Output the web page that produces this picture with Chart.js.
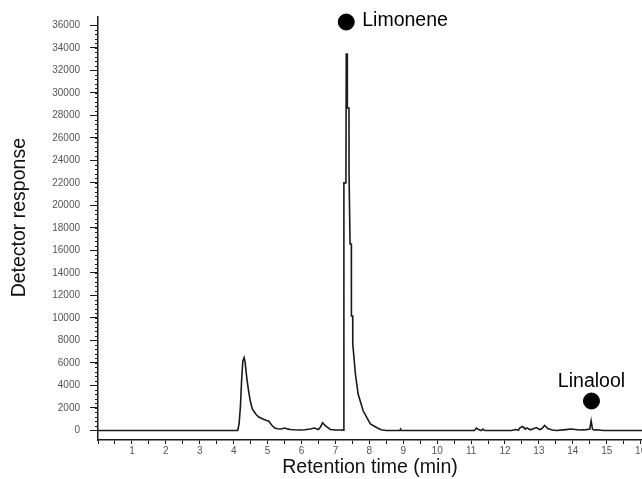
<!DOCTYPE html>
<html>
<head>
<meta charset="utf-8">
<title>Chromatogram</title>
<script src="https://cdn.jsdelivr.net/npm/chart.js@4.4.1/dist/chart.umd.min.js"></script>
<style>
  html, body { margin: 0; padding: 0; background: #fff; }
  #wrap { width: 642px; height: 479px; }
</style>
</head>
<body>
<div id="wrap"><canvas id="chart" width="642" height="479"></canvas></div>
<script>
/* ---- data ---- */
const TIME = [
  0, 4.12, 4.16, 4.2, 4.23, 4.27, 4.31, 4.34, 4.39, 4.44, 4.49, 4.55, 4.65, 4.74,
  4.86, 4.97, 5.03, 5.12, 5.21, 5.3, 5.39, 5.51, 5.6, 5.68, 5.8, 5.97, 6.1, 6.26,
  6.38, 6.5, 6.56, 6.62, 6.71, 6.85, 7.0, 7.15, 7.24,
  7.25, 7.31, 7.32, 7.35, 7.352, 7.4, 7.402, 7.43, 7.432, 7.47, 7.472, 7.51, 7.512,
  7.59, 7.67, 7.82, 8.03, 8.24, 8.35, 8.5,
  8.9, 8.92, 8.94, 11.1, 11.16, 11.22, 11.3, 11.35, 11.4, 12.2, 12.3, 12.4, 12.43,
  12.52, 12.6, 12.64, 12.75, 12.93, 13.02, 13.08, 13.17, 13.26, 13.4, 13.52, 13.8,
  13.95, 14.2, 14.4, 14.5, 14.54, 14.58, 14.62, 14.7, 14.9, 15.2, 16.04
];
const RESPONSE = [
  0, 0, 580, 2180, 4200, 6170, 6470, 6000, 4580, 3510, 2620, 1910, 1470, 1200,
  1020, 890, 840, 490, 220, 150, 130, 220, 120, 90, 60, 40, 60, 130,
  220, 90, 300, 690, 400, 90, 50, 40, 30,
  22000, 22000, 33450, 33450, 28650, 28650, 22790, 22790, 16570, 16570, 10170, 10170, 7680,
  5020, 3240, 1730, 580, 220, 60, 0,
  0, 120, 0, 0, 220, 80, 0, 130, 0, 0, 90, 40, 220,
  350, 120, 230, 60, 260, 80, 150, 450, 180, 40, 0, 80,
  130, 40, 80, 120, 850, 120, 40, 60, 0, 0, 0
];

const PEAK_NAMES = ["Limonene", "Linalool"];
const PEAK_TIME = [7.32, 14.55];
const PEAK_MARK = [36290, 2620];

const X_TICKS = [0, 0.5, 1, 1.5, 2, 2.5, 3, 3.5, 4, 4.5, 5, 5.5, 6, 6.5, 7, 7.5, 8,
  8.5, 9, 9.5, 10, 10.5, 11, 11.5, 12, 12.5, 13, 13.5, 14, 14.5, 15, 15.5, 16];
const Y_TICKS = [0, 2000, 4000, 6000, 8000, 10000, 12000, 14000, 16000, 18000,
  20000, 22000, 24000, 26000, 28000, 30000, 32000, 34000, 36000];
const Y_MINOR_STEP = 400;

const FONT = '"Liberation Sans", Arial, sans-serif';
const INK = "#1a1a1a";

/* ---- minor ticks + peak names ---- */
const peakLabels = {
  id: "peakLabels",
  afterDatasetsDraw(chart) {
    const { ctx, scales: { x, y } } = chart;
    ctx.save();
    ctx.strokeStyle = INK;
    ctx.lineWidth = 1;
    ctx.beginPath();
    for (let v = 0; v <= Y_TICKS[Y_TICKS.length - 1]; v += Y_MINOR_STEP) {
      const py = Math.round(y.getPixelForValue(v)) + 0.5;
      ctx.moveTo(x.left, py);
      ctx.lineTo(x.left - 3, py);
    }
    ctx.stroke();

    ctx.fillStyle = "#000";
    ctx.font = "19.5px " + FONT;
    ctx.textBaseline = "middle";
    const p0x = x.getPixelForValue(PEAK_TIME[0]);
    const p0y = y.getPixelForValue(PEAK_MARK[0]);
    ctx.textAlign = "left";
    ctx.fillText(PEAK_NAMES[0], p0x + 16, p0y - 1);
    const p1x = x.getPixelForValue(PEAK_TIME[1]);
    const p1y = y.getPixelForValue(PEAK_MARK[1]);
    ctx.textAlign = "center";
    ctx.fillText(PEAK_NAMES[1], p1x, p1y - 19);
    ctx.restore();
  }
};

new Chart(document.getElementById("chart"), {
  type: "line",
  data: {
    datasets: [
      {
        data: TIME.map((t, i) => ({ x: t, y: RESPONSE[i] })),
        borderColor: INK,
        borderWidth: 1.6,
        pointRadius: 0,
        tension: 0,
        fill: false
      },
      {
        type: "scatter",
        data: PEAK_TIME.map((t, i) => ({ x: t, y: PEAK_MARK[i] })),
        pointRadius: 8,
        pointBackgroundColor: "#000",
        pointBorderColor: "#000",
        clip: false
      }
    ]
  },
  options: {
    responsive: false,
    animation: false,
    layout: { autoPadding: false, padding: { top: 17, right: 0, left: 0, bottom: 0 } },
    plugins: { legend: { display: false }, tooltip: { enabled: false } },
    scales: {
      x: {
        type: "linear",
        min: 0,
        max: 16.04,
        afterBuildTicks: (s) => { s.ticks = X_TICKS.map((v) => ({ value: v })); },
        afterFit: (s) => { s.height = 39; s.paddingRight = 0; s.paddingLeft = 0; },
        ticks: {
          autoSkip: false,
          maxRotation: 0,
          padding: 1,
          color: "#555",
          font: { family: FONT, size: 10 },
          callback: (v) => (Number.isInteger(v) && v > 0 ? String(v) : "")
        },
        grid: { drawOnChartArea: false, tickLength: 4, tickColor: INK, tickWidth: 1 },
        border: { color: INK, width: 1.5 },
        title: {
          display: true,
          text: "Retention time (min)",
          color: "#111",
          font: { family: FONT, size: 19.5 },
          padding: { top: 0, bottom: 0 }
        }
      },
      y: {
        min: -844,
        max: 36736,
        afterBuildTicks: (s) => { s.ticks = Y_TICKS.map((v) => ({ value: v })); },
        afterFit: (s) => { s.width = 98; },
        ticks: {
          padding: 10,
          color: "#555",
          font: { family: FONT, size: 10 },
          callback: (v) => String(v)
        },
        grid: { drawOnChartArea: false, tickLength: 8, tickColor: INK, tickWidth: 1 },
        border: { color: INK, width: 1.5 },
        title: {
          display: true,
          text: "    Detector response",
          color: "#111",
          font: { family: FONT, size: 19.5 },
          padding: { top: 8, bottom: 0 }
        }
      }
    }
  },
  plugins: [peakLabels]
});
</script>
</body>
</html>
